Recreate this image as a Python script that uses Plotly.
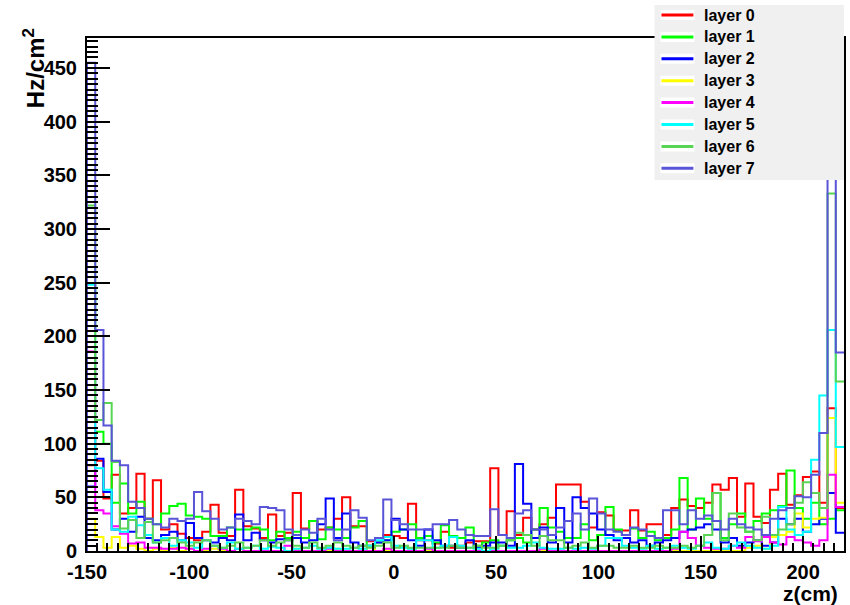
import numpy as np
import plotly.graph_objects as go

# ---------------- data ----------------
z_min, z_max, n_bins = -150, 220, 92
x_ticks = [-150, -100, -50, 0, 50, 100, 150, 200]
x_tick_text = ["-150", "-100", "-50", "0", "50", "100", "150", "200"]
y_ticks = [0, 50, 100, 150, 200, 250, 300, 350, 400, 450]
layer_names = ["layer 0", "layer 1", "layer 2", "layer 3",
               "layer 4", "layer 5", "layer 6", "layer 7"]

layer0 = [80, 84, 49, 71, 35, 40, 72, 30, 66, 20,
          25, 16, 12, 10, 18, 43, 17, 14, 57, 23,
          21, 12, 34, 14, 17, 54, 21, 28, 20, 22,
          30, 50, 23, 23, 9, 12, 15, 14, 12, 44,
          10, 10, 7, 18, 3, 5, 8, 9, 9, 77,
          15, 37, 15, 31, 20, 25, 31, 62, 62, 62,
          46, 22, 36, 33, 19, 19, 38, 19, 25, 25,
          15, 40, 48, 42, 40, 45, 62, 57, 68, 32,
          63, 32, 26, 57, 72, 43, 52, 69, 74, 45,
          133, 40]
layer1 = [95, 111, 100, 45, 63, 35, 46, 30, 25, 35,
          42, 44, 33, 32, 30, 14, 14, 22, 20, 20,
          22, 20, 10, 18, 12, 18, 12, 28, 11, 22,
          20, 12, 22, 28, 5, 8, 10, 18, 20, 25,
          12, 14, 8, 24, 14, 12, 22, 5, 8, 10,
          5, 10, 12, 8, 20, 40, 22, 18, 12, 12,
          25, 10, 15, 41, 20, 15, 21, 12, 18, 10,
          12, 20, 68, 20, 49, 30, 54, 12, 25, 35,
          18, 28, 35, 38, 42, 75, 40, 30, 45, 25,
          30, 38]
layer2 = [60, 86, 55, 20, 30, 18, 32, 12, 10, 15,
          18, 10, 26, 12, 10, 8, 12, 10, 34, 10,
          17, 10, 8, 11, 10, 12, 8, 10, 25, 49,
          12, 35, 8, 5, 5, 8, 10, 30, 20, 10,
          5, 20, 10, 5, 5, 3, 10, 3, 5, 8,
          8, 5, 81, 44, 12, 22, 8, 40, 8, 50,
          40, 35, 20, 15, 10, 12, 8, 10, 5, 8,
          10, 12, 18, 20, 22, 25, 20, 8, 12, 5,
          8, 10, 5, 8, 30, 25, 30, 18, 25, 30,
          54, 17]
layer3 = [30, 13, 3, 13, 3, 5, 2, 0, 2, 0,
          3, 0, 2, 0, 0, 2, 0, 0, 2, 0,
          0, 0, 0, 0, 0, 2, 0, 0, 0, 0,
          2, 0, 0, 0, 5, 0, 0, 0, 0, 0,
          0, 0, 0, 0, 0, 0, 0, 0, 0, 0,
          0, 0, 0, 0, 0, 0, 0, 0, 0, 0,
          0, 0, 0, 0, 0, 0, 0, 0, 0, 0,
          0, 0, 0, 0, 0, 0, 0, 0, 0, 0,
          3, 5, 2, 13, 15, 18, 35, 22, 30, 31,
          124, 45]
layer4 = [186, 38, 35, 23, 16, 7, 8, 3, 3, 2,
          2, 3, 2, 0, 2, 5, 2, 0, 2, 0,
          0, 0, 0, 0, 5, 0, 0, 0, 0, 2,
          0, 0, 0, 0, 0, 0, 2, 0, 0, 0,
          0, 2, 0, 0, 0, 0, 0, 0, 0, 0,
          0, 0, 0, 0, 0, 2, 0, 0, 0, 0,
          0, 0, 0, 0, 0, 0, 0, 0, 0, 0,
          0, 2, 18, 12, 5, 3, 2, 2, 5, 3,
          13, 9, 13, 8, 6, 13, 10, 8, 5, 10,
          71, 41]
layer5 = [248, 77, 57, 20, 18, 32, 24, 15, 8, 12,
          5, 10, 8, 3, 10, 5, 3, 8, 2, 3,
          5, 2, 4, 3, 0, 2, 3, 5, 2, 3,
          2, 2, 3, 2, 5, 10, 13, 5, 3, 2,
          10, 10, 3, 5, 13, 5, 3, 2, 0, 2,
          5, 3, 3, 5, 8, 3, 2, 2, 3, 2,
          3, 2, 5, 12, 12, 5, 3, 2, 5, 2,
          3, 5, 3, 2, 5, 8, 3, 2, 5, 8,
          5, 3, 2, 5, 41, 20, 15, 18, 85, 145,
          206, 97]
layer6 = [322, 122, 138, 83, 21, 29, 12, 27, 8, 10,
          12, 8, 5, 8, 10, 5, 3, 5, 8, 3,
          5, 10, 5, 8, 10, 5, 3, 8, 3, 5,
          8, 5, 3, 5, 3, 5, 8, 3, 5, 3,
          3, 3, 3, 3, 5, 3, 3, 5, 3, 3,
          5, 10, 17, 15, 5, 14, 10, 10, 3, 5,
          8, 3, 5, 5, 3, 3, 5, 3, 3, 5,
          3, 3, 5, 3, 5, 15, 54, 10, 35, 22,
          18, 10, 32, 15, 20, 25, 45, 64, 54, 40,
          333, 158]
layer7 = [455, 206, 117, 84, 80, 46, 40, 30, 25, 22,
          30, 28, 30, 55, 37, 30, 20, 22, 30, 28,
          25, 41, 40, 38, 20, 15, 20, 17, 30, 20,
          10, 20, 38, 31, 10, 12, 48, 29, 25, 20,
          20, 20, 25, 25, 29, 20, 15, 14, 14, 39,
          15, 12, 35, 38, 20, 20, 15, 22, 28, 35,
          20, 49, 35, 20, 18, 15, 22, 20, 14, 12,
          38, 38, 25, 38, 30, 33, 28, 20, 30, 25,
          22, 20, 15, 30, 38, 40, 51, 50, 71, 110,
          420, 185]

layers = [layer0, layer1, layer2, layer3, layer4, layer5, layer6, layer7]
colors = ["#ff0000", "#00ff00", "#0000ff", "#ffff00",
          "#ff00ff", "#00ffff", "#59d454", "#5954d8"]

# ---------------- figure ----------------
W, H = 850, 605
L, R, T, B = 87, 4, 38, 54
pw, ph = W - L - R, H - T - B

def px_x(px):
    return (px - L) / pw

def px_y(py):
    return (H - B - py) / ph

edges = np.linspace(z_min, z_max, n_bins + 1)
fig = go.Figure()
for vals, col, name in zip(layers, colors, layer_names):
    v = np.asarray(vals, dtype=float)
    xs = np.concatenate([[edges[0]], edges])
    ys = np.concatenate([[0.0], v, [v[-1]]])
    fig.add_trace(go.Scatter(x=xs, y=ys, mode="lines", name=name,
                             line=dict(color=col, width=2, shape="hv"),
                             showlegend=False, hoverinfo="skip"))

FAM = "Liberation Sans, Arial, Helvetica"
tickfont = dict(family=FAM, size=20, color="black", weight="bold")
ytitlefont = dict(family=FAM, size=24, color="black", weight="bold")
xtitlefont = dict(family=FAM, size=21, color="black", weight="bold")

fig.update_layout(
    width=W, height=H,
    margin=dict(l=L, r=R, t=T, b=B, pad=0),
    paper_bgcolor="white", plot_bgcolor="white",
    showlegend=False,
    xaxis=dict(range=[z_min, z_max], tickvals=x_ticks, ticktext=x_tick_text,
               ticks="inside", ticklen=15, tickwidth=2, tickcolor="black",
               showline=True, linecolor="black", linewidth=2, mirror=True,
               showgrid=False, zeroline=False, tickfont=tickfont,
               ticklabelstandoff=2,
               minor=dict(dtick=5, ticklen=8, tickwidth=2, ticks="inside",
                          tickcolor="black", showgrid=False)),
    yaxis=dict(range=[0, 478], tickvals=y_ticks, ticks="inside",
               ticklen=23, tickwidth=2, tickcolor="black",
               showline=True, linecolor="black", linewidth=2, mirror=True,
               showgrid=False, zeroline=False, tickfont=tickfont,
               ticklabelstandoff=4,
               minor=dict(dtick=5, ticklen=11, tickwidth=2, ticks="inside",
                          tickcolor="black", showgrid=False)),
)

# axis titles
fig.add_annotation(text="Hz/cm<sup>2</sup>", textangle=-90, showarrow=False,
                   xref="paper", yref="paper", x=px_x(34), y=px_y(68),
                   xanchor="center", yanchor="middle", font=ytitlefont)
fig.add_annotation(text="z(cm)", showarrow=False, xref="paper", yref="paper",
                   x=px_x(842), y=px_y(593), xanchor="right", yanchor="middle",
                   font=xtitlefont)

# legend (ROOT style box)
shapes = [dict(type="rect", xref="paper", yref="paper", layer="above",
               x0=px_x(656), x1=px_x(846), y0=px_y(180), y1=px_y(5),
               fillcolor="#f0f0f0", line=dict(width=0))]
for k, (name, col) in enumerate(zip(layer_names, colors)):
    cy = 15 + 21.9 * k
    shapes.append(dict(type="rect", xref="paper", yref="paper", layer="above",
                       x0=px_x(662), x1=px_x(696), y0=px_y(cy + 5), y1=px_y(cy - 5),
                       fillcolor="white", line=dict(width=0)))
    shapes.append(dict(type="line", xref="paper", yref="paper", layer="above",
                       x0=px_x(663), x1=px_x(695), y0=px_y(cy), y1=px_y(cy),
                       line=dict(color=col, width=3)))
    fig.add_annotation(text=name, showarrow=False, xref="paper", yref="paper",
                       x=px_x(704), y=px_y(cy), xanchor="left", yanchor="middle",
                       font=dict(family=FAM, size=16, color="black", weight="bold"))
fig.update_layout(shapes=shapes)

fig.write_html("out.html")
